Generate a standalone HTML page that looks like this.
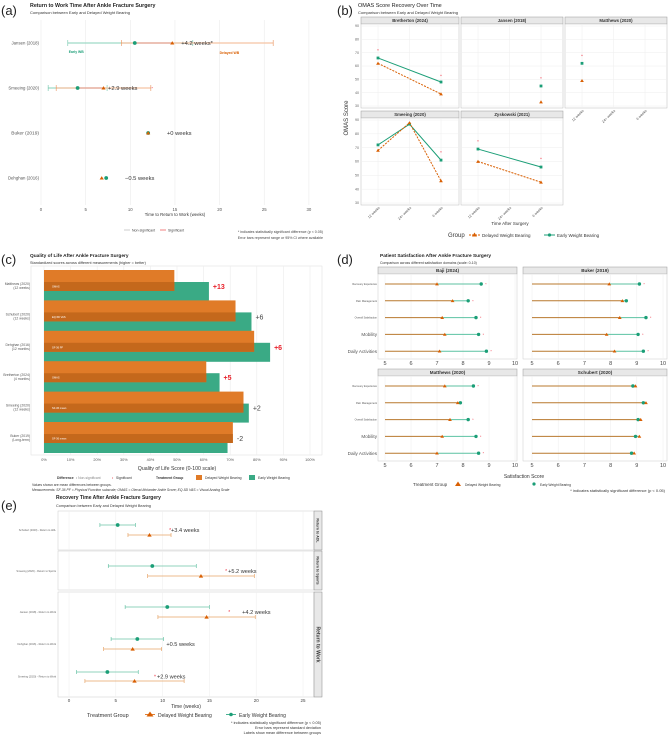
<!DOCTYPE html>
<html><head><meta charset="utf-8"><style>
html,body{margin:0;padding:0;background:#fff}
svg{display:block;font-family:"Liberation Sans",sans-serif}
</style></head><body>
<svg id="fig" width="669" height="738" viewBox="0 0 669 738" xmlns="http://www.w3.org/2000/svg">
<rect width="669" height="738" fill="#fff"/>
<!-- panel a static -->
<text x="1" y="15" font-size="13" fill="#222">(a)</text>
<text x="30" y="7" font-size="5.3" font-weight="bold" fill="#222">Return to Work Time After Ankle Fracture Surgery</text>
<text x="30" y="14" font-size="4" fill="#333">Comparison between Early and Delayed Weight Bearing</text>
<text x="175" y="216" font-size="4.3" fill="#333" text-anchor="middle">Time to Return to Work (weeks)</text>
<line x1="124" y1="230" x2="130" y2="230" stroke="#ccc" stroke-width="1"/>
<text x="132" y="231.5" font-size="3.5" fill="#444">Non-significant</text>
<line x1="160" y1="230" x2="166" y2="230" stroke="#f08080" stroke-width="1"/>
<text x="168" y="231.5" font-size="3.5" fill="#444">Significant</text>
<text x="323" y="233" font-size="3.6" fill="#444" text-anchor="end">* indicates statistically significant difference (p &lt; 0.05)</text>
<text x="323" y="239" font-size="3.6" fill="#444" text-anchor="end">Error bars represent range or 95% CI where available</text>
<!-- panel b static -->
<text x="337" y="15" font-size="13" fill="#222">(b)</text>
<text x="358" y="7" font-size="5.5" fill="#222">OMAS Score Recovery Over Time</text>
<text x="358" y="14" font-size="4" fill="#333">Comparison between Early and Delayed Weight Bearing</text>
<text x="0" y="0" font-size="6" fill="#333" text-anchor="middle" transform="translate(348,118) rotate(-90)">OMAS Score</text>
<text x="510" y="225" font-size="4.5" fill="#333" text-anchor="middle">Time After Surgery</text>
<text x="448" y="237" font-size="6" fill="#333">Group</text>
<line x1="469" y1="235" x2="480" y2="235" stroke="#d95f02" stroke-dasharray="2,1" stroke-width="1"/>
<path d="M474.5,232.5 L477,236.5 L472,236.5 Z" fill="#d95f02"/>
<text x="482" y="237" font-size="4.5" fill="#333">Delayed Weight Bearing</text>
<line x1="544" y1="235" x2="555" y2="235" stroke="#1b9e77" stroke-width="1"/>
<circle cx="549.5" cy="235" r="1.6" fill="#1b9e77"/>
<text x="557" y="237" font-size="4.5" fill="#333">Early Weight Bearing</text>
<!-- panel c static -->
<text x="1" y="264" font-size="13" fill="#222">(c)</text>
<text x="30" y="257" font-size="4.8" font-weight="bold" fill="#222">Quality of Life After Ankle Fracture Surgery</text>
<text x="30" y="264" font-size="3.8" fill="#333">Standardized scores across different measurements (higher = better)</text>
<text x="177" y="470" font-size="5.2" fill="#333" text-anchor="middle">Quality of Life Score (0-100 scale)</text>
<text x="57" y="479" font-size="3.4" font-weight="bold" fill="#333">Difference</text>
<text x="76" y="479" font-size="3.4" fill="#888">•  Non-significant</text>
<text x="112" y="479" font-size="3.4" fill="#e0303a">•</text>
<text x="116" y="479" font-size="3.4" fill="#333">Significant</text>
<text x="156" y="479" font-size="3.4" font-weight="bold" fill="#333">Treatment Group</text>
<rect x="196" y="475" width="6" height="5" fill="#e07b28"/>
<text x="205" y="479" font-size="3.4" fill="#333">Delayed Weight Bearing</text>
<rect x="249" y="475" width="6" height="5" fill="#3aaa85"/>
<text x="258" y="479" font-size="3.4" fill="#333">Early Weight Bearing</text>
<text x="32" y="486" font-size="3.4" fill="#333">Values shown are mean differences between groups.</text>
<text x="32" y="491" font-size="3.4" font-style="italic" fill="#333">Measurements: SF-36 PF = Physical Function subscale; OMAS = Olerud-Molander Ankle Score; EQ-5D VAS = Visual Analog Scale</text>
<!-- panel d static -->
<text x="337" y="264" font-size="13" fill="#222">(d)</text>
<text x="380" y="257" font-size="4.8" font-weight="bold" fill="#222">Patient Satisfaction After Ankle Fracture Surgery</text>
<text x="380" y="264" font-size="3.5" fill="#333">Comparison across different satisfaction domains (scale: 0-10)</text>
<text x="524" y="478" font-size="5" fill="#333" text-anchor="middle">Satisfaction Score</text>
<text x="413" y="486" font-size="4.5" fill="#333">Treatment Group</text>
<path d="M458,481.5 L461,486 L455,486 Z" fill="#d95f02"/>
<text x="465" y="486" font-size="3.3" fill="#333">Delayed Weight Bearing</text>
<circle cx="534" cy="484" r="1.6" fill="#1b9e77"/>
<text x="540" y="486" font-size="3.3" fill="#333">Early Weight Bearing</text>
<text x="665" y="492" font-size="4" fill="#333" text-anchor="end">* indicates statistically significant difference (p &lt; 0.05)</text>
<!-- panel e static -->
<text x="1" y="510" font-size="13" fill="#222">(e)</text>
<text x="56" y="499" font-size="5" font-weight="bold" fill="#222">Recovery Time After Ankle Fracture Surgery</text>
<text x="56" y="507" font-size="3.8" fill="#333">Comparison between Early and Delayed Weight Bearing</text>
<text x="186" y="708" font-size="5" fill="#333" text-anchor="middle">Time (weeks)</text>
<text x="87" y="717" font-size="5.5" fill="#333">Treatment Group</text>
<path d="M150,711.5 L153.5,716.5 L146.5,716.5 Z" fill="#d95f02"/>
<line x1="145" y1="714.5" x2="155" y2="714.5" stroke="#d95f02" stroke-width="0.8"/>
<text x="158" y="717" font-size="5" fill="#333">Delayed Weight Bearing</text>
<line x1="226" y1="714.5" x2="236" y2="714.5" stroke="#1b9e77" stroke-width="0.8"/>
<circle cx="231" cy="714.5" r="1.8" fill="#1b9e77"/>
<text x="239" y="717" font-size="5" fill="#333">Early Weight Bearing</text>
<text x="321" y="724" font-size="3.8" fill="#333" text-anchor="end">* indicates statistically significant difference (p &lt; 0.05)</text>
<text x="321" y="729" font-size="3.8" fill="#333" text-anchor="end">Error bars represent standard deviation</text>
<text x="321" y="734" font-size="3.8" fill="#333" text-anchor="end">Labels show mean difference between groups</text>
<g id="ga"></g>
<g id="gb"></g>
<g id="gc"></g>
<g id="gd"></g>
<g id="ge"></g>
</svg>
<script>
const NS='http://www.w3.org/2000/svg';
const TEAL='#1b9e77', ORANGE='#d95f02', RED='#ee3344';
function add(p,tag,a,name,txt){
  const el=document.createElementNS(NS,tag);
  for(const k in a) el.setAttribute(k,a[k]);
  
  
  if(txt!==undefined) el.textContent=txt;
  p.appendChild(el); return el;
}
function tri(p,x,y,s,fill,name){return add(p,'path',{d:`M${x},${y-s} L${x+s*1.1},${y+s*0.8} L${x-s*1.1},${y+s*0.8} Z`,fill:fill},name);}

/* ---------- Panel A data ---------- */
const aStudies=['Jansen (2018)','Smeeing (2020)','Buker (2019)','Dehghan (2016)'];
const aEarly=[10.5,4.1,12,7.3];
const aEarlyLo=[3,0.8,null,null];
const aEarlyHi=[17,7.4,null,null];
const aDelayed=[14.7,7.0,12,6.8];
const aDelLo=[9,1.7,null,null];
const aDelHi=[26,12.3,null,null];
const aDiffLabels=['+4.2 weeks','+2.9 weeks','+0 weeks','\u22120.5 weeks'];
const aSig=[true,true,false,false];
const aTicks=[0,5,10,15,20,25,30];
(function(){
  const g=document.getElementById('ga');
  const xA=v=>41+v*8.93, yA=i=>43+i*45;
  aTicks.forEach(t=>{
    add(g,'line',{x1:xA(t),x2:xA(t),y1:20,y2:205,stroke:'#ebebeb','stroke-width':0.6},'a-gridline');
    add(g,'text',{x:xA(t),y:211,'font-size':4.3,fill:'#555','text-anchor':'middle'},'a-x-tick',String(t));
  });
  aStudies.forEach((s,i)=>{
    const y=yA(i);
    add(g,'text',{x:39,y:y+1.5,'font-size':i==2?4.8:4.3,fill:'#555','text-anchor':'end'},'a-study-label',s);
    if(aEarlyLo[i]!==null){
      add(g,'line',{x1:xA(aEarlyLo[i]),x2:xA(aEarlyHi[i]),y1:y,y2:y,stroke:'#9fd9c6','stroke-width':1.3},'a-early-range');
      [aEarlyLo[i],aEarlyHi[i]].forEach(v=>add(g,'line',{x1:xA(v),x2:xA(v),y1:y-3,y2:y+3,stroke:'#6cc4a8','stroke-width':0.6},'a-early-cap'));
      add(g,'line',{x1:xA(aDelLo[i]),x2:xA(aDelHi[i]),y1:y,y2:y,stroke:'#f5c4a4','stroke-width':1.3},'a-delayed-range');
      [aDelLo[i],aDelHi[i]].forEach(v=>add(g,'line',{x1:xA(v),x2:xA(v),y1:y-3,y2:y+3,stroke:'#e9915a','stroke-width':0.6},'a-delayed-cap'));
    }
    if(aSig[i]) add(g,'line',{x1:xA(aEarly[i]),x2:xA(aDelayed[i]),y1:y,y2:y,stroke:'#ec9a90','stroke-width':1.1},'a-sig-segment');
    add(g,'circle',{cx:xA(aEarly[i]),cy:y,r:1.9,fill:TEAL},'a-early-point');
    tri(g,xA(aDelayed[i]),y,1.9,ORANGE,'a-delayed-point');
    const lx=Math.max(aEarly[i],aDelayed[i])+(aSig[i]?(i==0?1:0.5):2.1);
    add(g,'text',{x:xA(lx),y:y+2,'font-size':5.8,fill:'#333'},'a-diff-label',aDiffLabels[i]+(aSig[i]&&i==0?'*':''));
    if(aSig[i]&&i==1) add(g,'text',{x:xA(aDelHi[i])+0.5,y:y+1.5,'font-size':4,fill:RED},'a-sig-star','*');
  });
  add(g,'text',{x:xA(3)+1,y:53,'font-size':3.4,'font-weight':'bold',fill:TEAL},'a-early-annotation','Early WB');
  add(g,'text',{x:xA(20),y:54,'font-size':3.4,'font-weight':'bold',fill:ORANGE},'a-delayed-annotation','Delayed WB');
})();

/* ---------- Panel B data ---------- */
const bFacets=['Bretherton (2024)','Jansen (2018)','Matthews (2020)','Smeeing (2020)','Zyskowski (2021)'];
const bCats=['12 weeks','24+ weeks','6 weeks'];
const bEarly=[[66,null,48],[null,null,45],[62,null,null],[72,87,61],[69,null,56]];
const bDelayed=[[62,null,39],[null,null,33],[49,null,null],[68,88,46],[60,null,45]];
const bStars=[[72,null,53],[null,null,51],[68,null,null],[null,null,67],[75,null,62]];
const bYTicks=[30,40,50,60,70,80,90];
(function(){
  const g=document.getElementById('gb');
  const colX=[361,461,565], colW=[98,102,102];
  const rowTop=[24,118], rowH=[84,87];
  const yB=(v,r)=>rowTop[r]+2+(90-v)/60*(rowH[r]-4);
  const xB=(c,k)=>colX[c]+17+k*31.5;
  bFacets.forEach((f,fi)=>{
    const r=Math.floor(fi/3), c=fi%3;
    add(g,'rect',{x:colX[c],y:rowTop[r]-7,width:colW[c],height:7,fill:'#e8e8e8',stroke:'#999','stroke-width':0.5},'b-strip');
    add(g,'text',{x:colX[c]+colW[c]/2,y:rowTop[r]-2,'font-size':4.3,'font-weight':'bold',fill:'#333','text-anchor':'middle'},'b-strip-label',f);
    add(g,'rect',{x:colX[c],y:rowTop[r],width:colW[c],height:rowH[r],fill:'#fff',stroke:'#bbb','stroke-width':0.5},'b-facet-panel');
    bYTicks.forEach(t=>add(g,'line',{x1:colX[c],x2:colX[c]+colW[c],y1:yB(t,r),y2:yB(t,r),stroke:'#eee','stroke-width':0.5},'b-gridline'));
    bCats.forEach((k,ki)=>add(g,'line',{x1:xB(c,ki),x2:xB(c,ki),y1:rowTop[r],y2:rowTop[r]+rowH[r],stroke:'#eee','stroke-width':0.5},'b-gridline'));
    if(c==0) bYTicks.forEach(t=>add(g,'text',{x:colX[0]-2,y:yB(t,r)+1.2,'font-size':3.6,fill:'#666','text-anchor':'end'},'b-y-tick',String(t)));
    const series=[[bEarly[fi],TEAL,null],[bDelayed[fi],ORANGE,'2,1.2']];
    series.forEach(([vals,col,dash])=>{
      let pts=[];vals.forEach((v,ki)=>{if(v!==null)pts.push([xB(c,ki),yB(v,r)]);});
      if(pts.length>1){const a={points:pts.map(p=>p.join(',')).join(' '),fill:'none',stroke:col,'stroke-width':1};if(dash)a['stroke-dasharray']=dash;add(g,'polyline',a,col==TEAL?'b-early-line':'b-delayed-line');}
    });
    bEarly[fi].forEach((v,ki)=>{if(v!==null)add(g,'rect',{x:xB(c,ki)-1.4,y:yB(v,r)-1.4,width:2.8,height:2.8,fill:TEAL},'b-early-point');});
    bDelayed[fi].forEach((v,ki)=>{if(v!==null)tri(g,xB(c,ki),yB(v,r),1.7,ORANGE,'b-delayed-point');});
    bStars[fi].forEach((v,ki)=>{if(v!==null)add(g,'text',{x:xB(c,ki),y:yB(v,r)+2,'font-size':4.5,fill:RED,'text-anchor':'middle'},'b-sig-star','*');});
  });
  [[0,1],[1,1],[2,0]].forEach(([c,r])=>{
    const yb=rowTop[r]+rowH[r]+3;
    bCats.forEach((k,ki)=>add(g,'text',{x:0,y:0,'font-size':3.6,fill:'#555','text-anchor':'end',transform:`translate(${xB(c,ki)+2},${yb}) rotate(-45)`},'b-x-tick',k));
  });
})();

/* ---------- Panel C data ---------- */
const cStudies=[['Matthews (2020)','(12 weeks)'],['Schubert (2020)','(12 weeks)'],['Dehghan (2016)','(12 months)'],['Bretherton (2024)','(4 months)'],['Smeeing (2020)','(12 weeks)'],['Buker (2019)','(Long-term)']];
const cMeasures=['OMAS','EQ-5D VAS','SF-36 PF','OMAS','SF-36 mean','SF-36 mean'];
const cDelayed=[49,72,79,61,75,71];
const cEarly=[62,78,85,66,77,69];
const cDiff=['+13','+6','+6','+5','+2','-2'];
const cSig=[true,false,true,true,false,false];
const cTicks=[0,10,20,30,40,50,60,70,80,90,100];
(function(){
  const g=document.getElementById('gc');
  const xC=v=>44+v*2.66, yC=i=>286+i*30.4;
  add(g,'rect',{x:31,y:266,width:291,height:189,fill:'#fff',stroke:'#ddd','stroke-width':0.5},'c-plot-panel');
  cTicks.forEach(t=>{
    add(g,'line',{x1:xC(t),x2:xC(t),y1:266,y2:455,stroke:'#ebebeb','stroke-width':0.6},'c-gridline');
    add(g,'text',{x:xC(t),y:461,'font-size':3.8,fill:'#555','text-anchor':'middle'},'c-x-tick',t+'%');
  });
  cStudies.forEach((s,i)=>{
    const c=yC(i);
    add(g,'text',{x:30,y:c-1,'font-size':3.4,fill:'#555','text-anchor':'end'},'c-study-label',s[0]);
    add(g,'text',{x:30,y:c+3,'font-size':3.4,fill:'#555','text-anchor':'end'},'c-period-label',s[1]);
    add(g,'rect',{x:xC(0),y:c-4,width:xC(cEarly[i])-xC(0),height:19,fill:'#3aaa85'},'c-early-bar');
    add(g,'rect',{x:xC(0),y:c-16,width:xC(cDelayed[i])-xC(0),height:21,fill:'#e07b28'},'c-delayed-bar');
    add(g,'rect',{x:xC(0),y:c-4,width:xC(cDelayed[i])-xC(0),height:9,fill:'#c4681c'},'c-overlap-band');
    add(g,'text',{x:xC(0)+8,y:c+1.5,'font-size':2.6,fill:'#fff'},'c-measure-label',cMeasures[i]);
    const lx=Math.max(cEarly[i],cDelayed[i]);
    add(g,'text',{x:xC(lx)+4,y:c+3,'font-size':7,'font-weight':cSig[i]?'bold':'normal',fill:cSig[i]?'#e8202a':'#444'},'c-diff-label',cDiff[i]);
  });
})();

/* ---------- Panel D data ---------- */
const dFacets=['Baji (2024)','Buker (2019)','Matthews (2020)','Schubert (2020)'];
const dDomains=['Recovery Experience','Pain Management','Overall Satisfaction','Mobility','Daily Activities'];
const dDelayed=[[7.0,7.6,7.2,7.3,7.1],[7.95,8.45,8.35,7.85,8.15],[7.3,7.8,7.5,7.2,7.0],[8.95,9.35,9.15,9.1,8.9]];
const dEarly=[[8.7,8.2,8.5,8.6,8.9],[9.1,8.6,9.35,9.05,9.25],[8.4,7.9,8.2,8.5,8.6],[8.85,9.25,9.05,8.95,8.8]];
const dSig=[[1,1,1,1,1],[1,0,1,1,1],[1,0,1,1,1],[0,0,0,0,0]];
const dTicks=[5,6,7,8,9,10];
(function(){
  const g=document.getElementById('gd');
  const colX=[378,523], colW=[139,144], rowTop=[274,376], rowH=[85,85];
  const x0=[385,532], x1=[515,663];
  dFacets.forEach((f,fi)=>{
    const r=Math.floor(fi/2), c=fi%2;
    const xD=v=>x0[c]+(v-5)/5*(x1[c]-x0[c]);
    const yD=k=>rowTop[r]+10+k*16.8;
    add(g,'rect',{x:colX[c],y:rowTop[r]-7,width:colW[c],height:7,fill:'#e8e8e8',stroke:'#999','stroke-width':0.5},'d-strip');
    add(g,'text',{x:colX[c]+colW[c]/2,y:rowTop[r]-1.8,'font-size':4.6,'font-weight':'bold',fill:'#333','text-anchor':'middle'},'d-strip-label',f);
    add(g,'rect',{x:colX[c],y:rowTop[r],width:colW[c],height:rowH[r],fill:'#fff',stroke:'#ccc','stroke-width':0.5},'d-facet-panel');
    dTicks.forEach(t=>{
      add(g,'line',{x1:xD(t),x2:xD(t),y1:rowTop[r],y2:rowTop[r]+rowH[r],stroke:'#eee','stroke-width':0.5},'d-gridline');
      add(g,'text',{x:xD(t),y:rowTop[r]+rowH[r]+6,'font-size':5.5,fill:'#444','text-anchor':'middle'},'d-x-tick',String(t));
    });
    dDomains.forEach((d,k)=>{
      const y=yD(k);
      if(c==0){const big=k>=3;add(g,'text',{x:colX[0]-1,y:y+(big?1.7:1),'font-size':big?4.6:2.6,fill:'#555','text-anchor':'end'},'d-domain-label',d);}
      add(g,'line',{x1:xD(5),x2:xD(dDelayed[fi][k]),y1:y,y2:y,stroke:'#b8782e','stroke-width':1},'d-delayed-segment');
      add(g,'line',{x1:xD(dDelayed[fi][k]),x2:xD(dEarly[fi][k]),y1:y,y2:y,stroke:'#5cc2a2','stroke-width':1},'d-early-segment');
      add(g,'circle',{cx:xD(dEarly[fi][k]),cy:y,r:1.7,fill:TEAL},'d-early-point');
      tri(g,xD(dDelayed[fi][k]),y,1.7,ORANGE,'d-delayed-point');
      if(dSig[fi][k]) add(g,'text',{x:xD(Math.max(dEarly[fi][k],dDelayed[fi][k]))+4,y:y+1.5,'font-size':3.5,fill:RED},'d-sig-star','*');
    });
  });
})();

/* ---------- Panel E data ---------- */
const eRows=['Schubert (2020) - Return to ADL','Smeeing (2020) - Return to Sports','Jansen (2018) - Return to Work','Dehghan (2016) - Return to Work','Smeeing (2020) - Return to Work'];
const eEarly=[5.2,8.9,10.5,7.3,4.1];
const eEarlySD=[1.9,4.7,4.5,2.8,3.3];
const eDelayed=[8.6,14.1,14.7,6.8,7.0];
const eDelayedSD=[2.3,5.7,5.2,3.1,5.3];
const eDiff=['+3.4 weeks','+5.2 weeks','+4.2 weeks','+0.5 weeks','+2.9 weeks'];
const eSig=[true,true,true,false,true];
const eTicks=[0,5,10,15,20,25];
(function(){
  const g=document.getElementById('ge');
  const xE=v=>69+v*9.36;
  const panels=[['Return to ADL',511,550],['Return to Sports',551,590],['Return to Work',592,697]];
  const rowY=[[525,535],[566,576],[607,617],[639,649],[672,681]];
  panels.forEach(([n,t,b])=>{
    add(g,'rect',{x:58,y:t,width:256,height:b-t,fill:'#fff',stroke:'#ccc','stroke-width':0.5},'e-facet-panel');
    eTicks.forEach(v=>add(g,'line',{x1:xE(v),x2:xE(v),y1:t,y2:b,stroke:'#eee','stroke-width':0.5},'e-gridline'));
    add(g,'rect',{x:314,y:t,width:8,height:b-t,fill:'#e8e8e8',stroke:'#888','stroke-width':0.5},'e-strip');
    add(g,'text',{x:0,y:0,'font-size':n=='Return to Work'?5:3.6,'font-weight':'bold',fill:'#333','text-anchor':'middle',transform:`translate(316.5,${(t+b)/2}) rotate(90)`},'e-strip-label',n);
  });
  eTicks.forEach(v=>add(g,'text',{x:xE(v),y:702,'font-size':4.5,fill:'#444','text-anchor':'middle'},'e-x-tick',String(v)));
  eRows.forEach((rname,i)=>{
    const [ye,yd]=rowY[i];
    add(g,'text',{x:56,y:(ye+yd)/2+1,'font-size':2.6,fill:'#666','text-anchor':'end'},'e-row-label',rname);
    const bars=[[eEarly[i],eEarlySD[i],ye,'#6cc4a8'],[eDelayed[i],eDelayedSD[i],yd,'#e6a468']];
    bars.forEach(([m,sd,y,col])=>{
      add(g,'line',{x1:xE(m-sd),x2:xE(m+sd),y1:y,y2:y,stroke:col,'stroke-width':0.8},'e-error-bar');
      [m-sd,m+sd].forEach(v=>add(g,'line',{x1:xE(v),x2:xE(v),y1:y-2,y2:y+2,stroke:col,'stroke-width':0.7},'e-error-cap'));
    });
    add(g,'circle',{cx:xE(eEarly[i]),cy:ye,r:1.9,fill:TEAL},'e-early-point');
    tri(g,xE(eDelayed[i]),yd,2,ORANGE,'e-delayed-point');
    const hi=Math.max(eEarly[i]+eEarlySD[i],eDelayed[i]+eDelayedSD[i]);
    const mx=Math.max(eEarly[i],eDelayed[i]);
    const lx=(i==0)?hi:(i==1?mx+2.9:(i==2?mx+3.8:(i==3?hi+0.3:mx+2.4)));
    if(eSig[i]) add(g,'text',{x:xE(lx)-(i==2?12:(i==0?0:1)),y:(ye+yd)/2+2,'font-size':5,fill:RED,'text-anchor':'end'},'e-sig-star','*');
    add(g,'text',{x:xE(lx),y:(ye+yd)/2+2,'font-size':5.6,fill:'#333'},'e-diff-label',eDiff[i]);
  });
})();
</script>
</body></html>
